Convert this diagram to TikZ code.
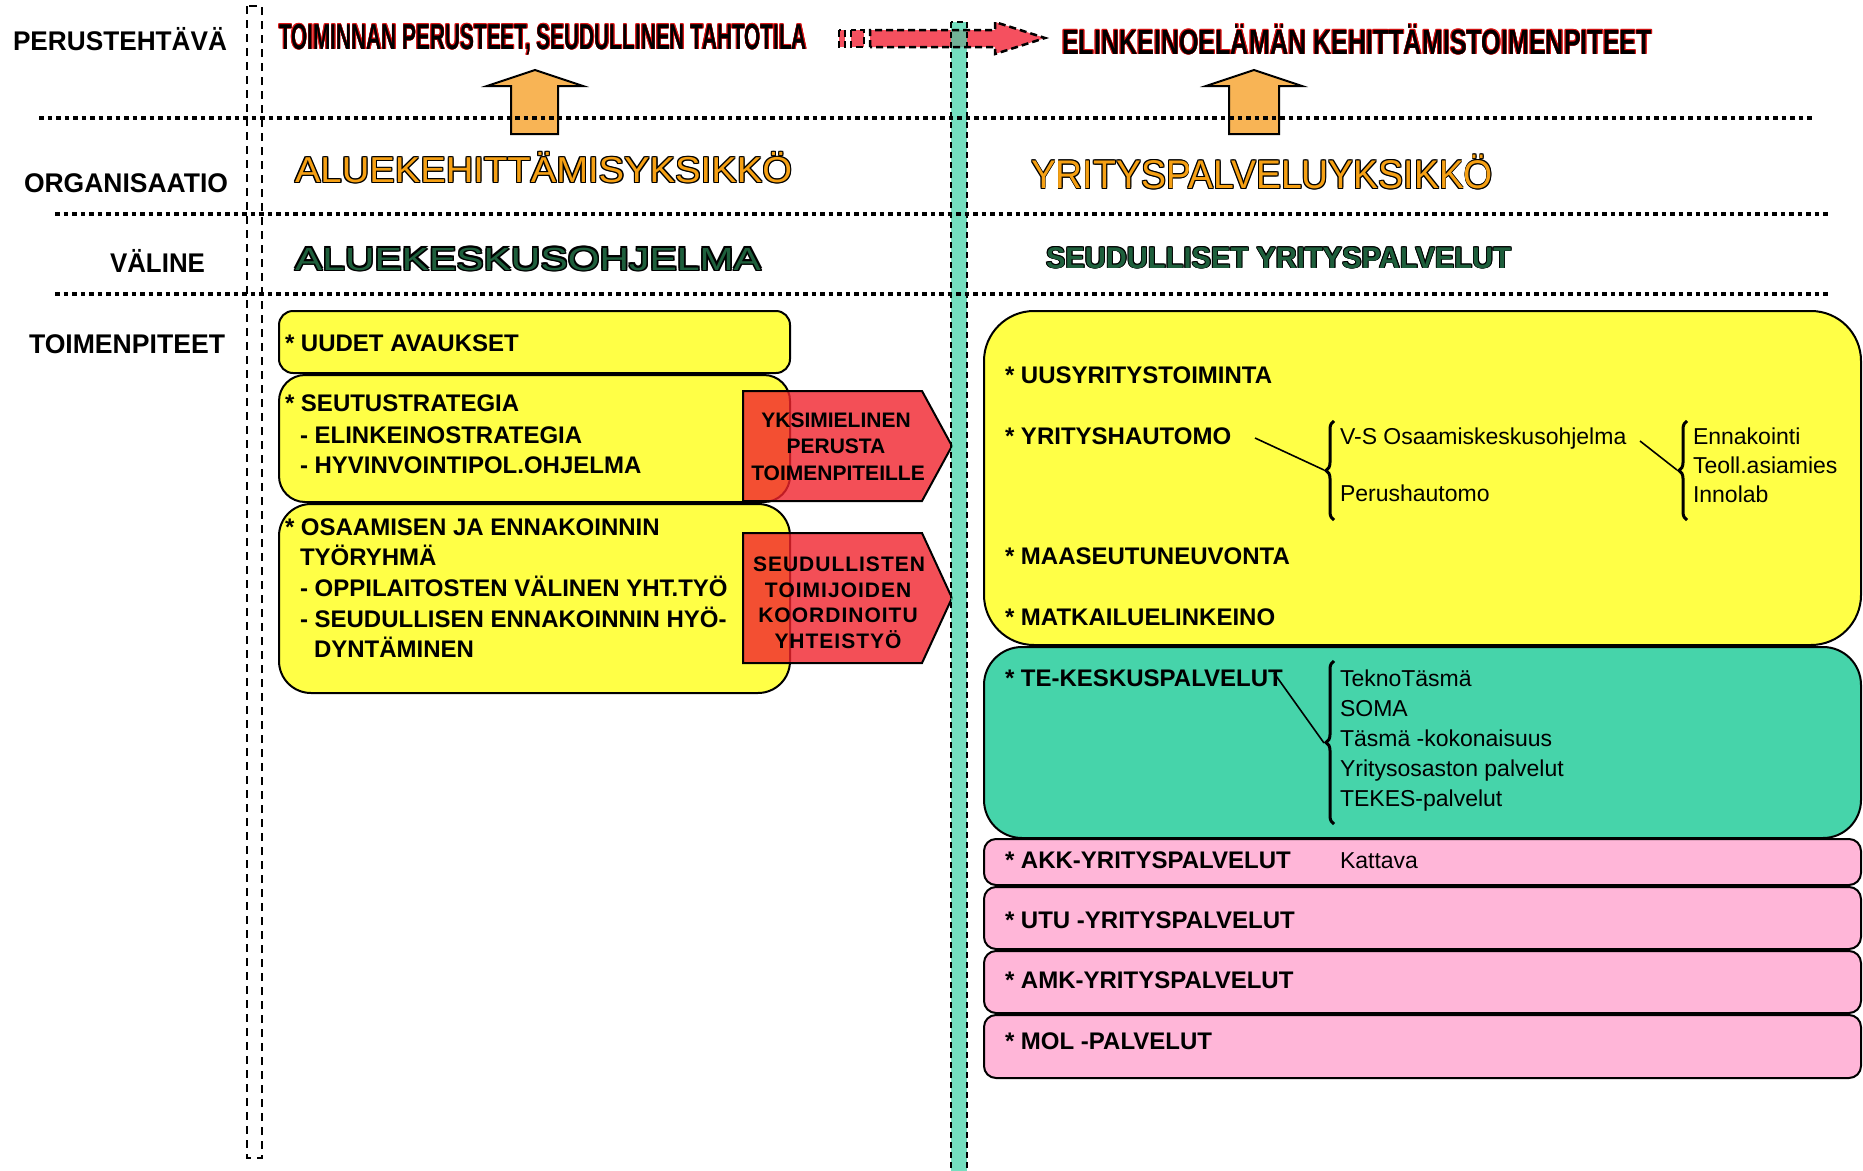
\documentclass[tikz,border=0pt]{standalone}
\usepackage{fontspec}
\setmainfont{Liberation Sans}
\usepackage{graphicx}
\usetikzlibrary{decorations.pathreplacing}

\definecolor{boxyellow}{RGB}{255,255,70}
\definecolor{boxteal}{RGB}{70,212,170}
\definecolor{boxpink}{RGB}{255,182,216}
\definecolor{pentred}{RGB}{240,35,45}
\definecolor{arrred}{RGB}{245,80,95}
\definecolor{uporange}{RGB}{248,180,85}
\definecolor{orgorange}{RGB}{245,160,20}
\definecolor{vgreen}{RGB}{30,95,60}
\definecolor{hred}{RGB}{225,20,20}

\newsavebox\olbox
\newcommand\olt[4]{\setbox\olbox\hbox{#4}\leavevmode\rlap{\color{#1}%
\rlap{\kern#3\copy\olbox}\rlap{\kern-#3\copy\olbox}%
\rlap{\raise#3\copy\olbox}\rlap{\lower#3\copy\olbox}%
\rlap{\kern#3\raise#3\copy\olbox}\rlap{\kern-#3\raise#3\copy\olbox}%
\rlap{\kern#3\lower#3\copy\olbox}\rlap{\kern-#3\lower#3\copy\olbox}}%
{\color{#2}\copy\olbox}}
\newcommand\fw[2]{\resizebox{#1}{\height}{#2}}

\tikzset{
  txt/.style={anchor=base west, inner sep=0pt, outer sep=0pt},
  lbl/.style={txt, font=\fontsize{27}{30}\selectfont\bfseries},
  item/.style={txt, font=\fontsize{24}{28}\selectfont\bfseries},
  sub/.style={txt, font=\fontsize{23}{28}\selectfont},
  ptxt/.style={anchor=base, inner sep=0pt, font=\fontsize{21}{25}\selectfont\bfseries},
  ybox/.style={draw=black, line width=2pt, fill=boxyellow},
  tbox/.style={draw=black, line width=2pt, fill=boxteal},
  pbox/.style={draw=black, line width=2pt, fill=boxpink, rounded corners=12pt},
  pent/.style={draw=black, line width=2pt, fill=pentred, fill opacity=0.8},
  uparrow/.style={draw=black, line width=2pt, fill=uporange},
  dotline/.style={line width=4pt, dash pattern=on 4.5pt off 4pt},
  conn/.style={line width=1.6pt},
  brc/.style={line width=3pt, decorate, decoration={brace, amplitude=8pt}},
  arrdash/.style={line width=2.5pt, dash pattern=on 7pt off 4pt},
}

\begin{document}
\begin{tikzpicture}[x=1pt,y=1pt]
\useasboundingbox (0,0) rectangle (1863,-1170);
\fill[white] (0,0) rectangle (1863,-1170);

% left boxes
\draw[ybox, rounded corners=14pt] (279,-311) rectangle (790,-373);
\draw[ybox, rounded corners=26pt] (279,-375) rectangle (790,-502);
\draw[ybox, rounded corners=32pt] (279,-504) rectangle (790,-693);

% pentagons
\draw[pent] (743,-391) -- (922,-391) -- (952,-446) -- (922,-501) -- (743,-501) -- cycle;
\draw[pent] (743,-533) -- (922,-533) -- (952,-598) -- (922,-663) -- (743,-663) -- cycle;

% right boxes
\draw[ybox, rounded corners=50pt] (984,-311) rectangle (1861,-645);
\draw[tbox, rounded corners=38pt] (984,-647) rectangle (1861,-838);
\draw[pbox] (984,-839) rectangle (1861,-885);
\draw[pbox] (984,-887) rectangle (1861,-949);
\draw[pbox] (984,-951) rectangle (1861,-1013);
\draw[pbox] (984,-1015) rectangle (1861,-1078);

% dashed frame
\draw[line width=1.6pt, dash pattern=on 8pt off 6pt] (247,-6) rectangle (262,-1158);

% top red arrow (with broken tail) and teal bar
\fill[arrred] (839,-30) rectangle (845,-47);
\fill[arrred] (851,-30) rectangle (864,-47);
\fill[arrred] (870,-30) -- (995,-30) -- (995,-22) -- (1045,-38) -- (995,-54) -- (995,-47) -- (870,-47) -- cycle;
\fill[boxteal, opacity=0.75] (951,-22) rectangle (967,-1172);
\draw[line width=1.8pt, dash pattern=on 6pt off 4pt] (951,-22) rectangle (967,-1172);
\draw[arrdash] (839,-30) rectangle (845,-47);
\draw[arrdash] (851,-30) rectangle (864,-47);
\draw[arrdash] (870,-47) -- (870,-30) -- (995,-30) -- (995,-22) -- (1045,-38) -- (995,-54) -- (995,-47) -- (870,-47);

% orange up arrows
\draw[uparrow] (511,-134) -- (511,-86) -- (487,-86) -- (535,-70) -- (583,-86) -- (558,-86) -- (558,-134) -- cycle;
\draw[uparrow] (1229,-134) -- (1229,-86) -- (1206,-86) -- (1254,-70) -- (1302,-86) -- (1279,-86) -- (1279,-134) -- cycle;

% dotted lines
\draw[dotline] (39,-118) -- (1813,-118);
\draw[dotline] (55,-214) -- (1829,-214);
\draw[dotline] (55,-294) -- (1829,-294);

% row labels
\node[lbl] (perus) at (13,-50) {\fw{214pt}{PERUSTEHTÄVÄ}};
\node[lbl] (org) at (24,-192) {\fw{204pt}{ORGANISAATIO}};
\node[lbl] (valine) at (110,-272) {\fw{95pt}{VÄLINE}};
\node[lbl] (toim) at (29,-353) {\fw{196pt}{TOIMENPITEET}};

% headings
\node[txt, font=\fontsize{36}{40}\selectfont\bfseries] (h1) at (279,-49)
  {\fw{528pt}{\olt{hred}{black}{0.8pt}{TOIMINNAN PERUSTEET, SEUDULLINEN TAHTOTILA}}};
\node[txt, font=\fontsize{35}{40}\selectfont\bfseries] (h2) at (1062,-54)
  {\fw{590pt}{\olt{hred}{black}{0.8pt}{ELINKEINOELÄMÄN KEHITTÄMISTOIMENPITEET}}};
\node[txt, font=\fontsize{36}{40}\selectfont] (o1) at (295,-182)
  {\fw{497pt}{\olt{black}{orgorange}{1pt}{ALUEKEHITTÄMISYKSIKKÖ}}};
\node[txt, font=\fontsize{40}{44}\selectfont] (o2) at (1031,-188)
  {\fw{462pt}{\olt{black}{orgorange}{1pt}{YRITYSPALVELUYKSIKKÖ}}};
\node[txt, font=\fontsize{32}{36}\selectfont] (v1) at (295,-270)
  {\fw{466pt}{\olt{black}{vgreen}{1.1pt}{ALUEKESKUSOHJELMA}}};
\node[txt, font=\fontsize{30}{34}\selectfont\bfseries] (v2) at (1046,-268)
  {\fw{465pt}{\olt{black}{vgreen}{0.9pt}{SEUDULLISET YRITYSPALVELUT}}};

% left box texts
\node[item] (t1) at (285,-351) {* UUDET AVAUKSET};
\node[item] (t2) at (285,-411) {* SEUTUSTRATEGIA};
\node[item] (t2a) at (300,-443) {- ELINKEINOSTRATEGIA};
\node[item] (t2b) at (300,-473) {- HYVINVOINTIPOL.OHJELMA};
\node[item] (t3) at (285,-535) {* OSAAMISEN JA ENNAKOINNIN};
\node[item] (t3a) at (300,-565) {TYÖRYHMÄ};
\node[item] (t3b) at (300,-596) {- OPPILAITOSTEN VÄLINEN YHT.TYÖ};
\node[item] (t3c) at (300,-627) {- SEUDULLISEN ENNAKOINNIN HYÖ-};
\node[item] (t3d) at (314,-657) {DYNTÄMINEN};

% pentagon texts
\node[ptxt] (p1a) at (836,-427) {YKSIMIELINEN};
\node[ptxt] (p1b) at (836,-453) {PERUSTA};
\node[ptxt] (p1c) at (838,-480) {TOIMENPITEILLE};
\node[ptxt] (p2a) at (839,-571) {S\kern1pt E\kern1pt U\kern1pt D\kern1pt U\kern1pt L\kern1pt L\kern1pt I\kern1pt S\kern1pt T\kern1pt E\kern1pt N};
\node[ptxt] (p2b) at (838,-597) {T\kern1pt O\kern1pt I\kern1pt M\kern1pt I\kern1pt J\kern1pt O\kern1pt I\kern1pt D\kern1pt E\kern1pt N};
\node[ptxt] (p2c) at (838,-622) {K\kern1pt O\kern1pt O\kern1pt R\kern1pt D\kern1pt I\kern1pt N\kern1pt O\kern1pt I\kern1pt T\kern1pt U};
\node[ptxt] (p2d) at (838,-648) {Y\kern1pt H\kern1pt T\kern1pt E\kern1pt I\kern1pt S\kern1pt T\kern1pt Y\kern1pt Ö};

% right yellow box texts
\node[item] (r1) at (1005,-383) {* UUSYRITYSTOIMINTA};
\node[item] (r2) at (1005,-444) {* YRITYSHAUTOMO};
\node[item] (r3) at (1005,-564) {* MAASEUTUNEUVONTA};
\node[item] (r4) at (1005,-625) {* MATKAILUELINKEINO};
\node[sub] (vs) at (1340,-444) {V-S Osaamiskeskusohjelma};
\node[sub] (ph) at (1340,-501) {Perushautomo};
\node[sub] (en) at (1693,-444) {Ennakointi};
\node[sub] (ta) at (1693,-473) {Teoll.asiamies};
\node[sub] (il) at (1693,-502) {Innolab};

% teal box texts
\node[item] (te) at (1005,-686) {* TE-KESKUSPALVELUT};
\node[sub] (te1) at (1340,-686) {TeknoTäsmä};
\node[sub] (te2) at (1340,-716) {SOMA};
\node[sub] (te3) at (1340,-746) {Täsmä -kokonaisuus};
\node[sub] (te4) at (1340,-776) {Yritysosaston palvelut};
\node[sub] (te5) at (1340,-806) {TEKES-palvelut};

% pink box texts
\node[item] (akk) at (1005,-868) {* AKK-YRITYSPALVELUT};
\node[sub] (kat) at (1340,-868) {Kattava};
\node[item] (utu) at (1005,-928) {* UTU -YRITYSPALVELUT};
\node[item] (amk) at (1005,-988) {* AMK-YRITYSPALVELUT};
\node[item] (mol) at (1005,-1049) {* MOL -PALVELUT};

% braces
\draw[brc] (1334,-520) -- (1334,-421);
\draw[brc] (1687,-520) -- (1687,-421);
\draw[brc] (1334,-824) -- (1334,-661);
\coordinate (b1tip) at (1324,-470);
\coordinate (b2tip) at (1677,-470);
\coordinate (b3tip) at (1324,-743);
\coordinate (yhE) at (1255,-438);
\coordinate (vsE) at (1640,-441);
\coordinate (teE) at (1274,-673);
\draw[conn] (yhE) -- (b1tip);
\draw[conn] (vsE) -- (b2tip);
\draw[conn] (teE) -- (b3tip);
\end{tikzpicture}
\end{document}
